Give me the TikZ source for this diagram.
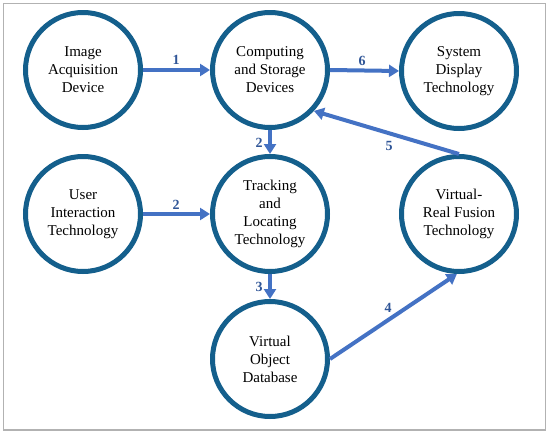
\documentclass[tikz,border=0pt]{standalone}
\usepackage{fontspec}
\setmainfont{Liberation Serif}
\newfontfamily\tnr{Liberation Serif}
\usetikzlibrary{arrows.meta}
\definecolor{ring}{RGB}{20,95,140}
\definecolor{arr}{RGB}{68,114,196}
\definecolor{lab}{RGB}{47,85,151}
\tikzset{
  circ/.style={circle,draw=ring,line width=5pt,minimum size=115pt,inner sep=0pt,align=center,
    font=\tnr\fontsize{15pt}{18pt}\selectfont,fill=white},
  conn/.style={draw=arr,line width=4pt,-{Triangle[length=10pt,width=12pt]}},
  lbl/.style={text=lab,font=\tnr\bfseries\fontsize{14pt}{16pt}\selectfont}
}
\begin{document}
\begin{tikzpicture}[x=1pt,y=-1pt]
\useasboundingbox (0,0) rectangle (550,434);
\draw[draw=black!30,line width=1.2pt] (3.5,3.5) rectangle (545.5,430);
\node[circ] (img) at (83,70) {Image\\Acquisition\\Device};
\node[circ] (comp) at (270,70) {Computing\\and Storage\\Devices};
\node[circ] (sys) at (459,71) {System\\Display\\Technology};
\node[circ] (user) at (83,214) {User\\Interaction\\Technology};
\node[circ] (track) at (270,214) {Tracking\\and\\Locating\\Technology};
\node[circ] (fus) at (459,214) {Virtual-\\Real Fusion\\Technology};
\node[circ] (vod) at (270,359) {Virtual\\Object\\Database};
\begin{scope}[on background layer/.style={}]
\draw[conn] (img.east) -- (comp.west);
\draw[conn] (comp.east) -- (sys.west);
\draw[conn] (comp.south) -- (track.north);
\draw[conn] (user.east) -- (track.west);
\draw[conn] (track.south) -- (vod.north);
\draw[conn] (vod.east) -- (fus.-92);
\draw[conn] (fus.north) -- (comp.-43);
\end{scope}
\node[lbl] (l1) at (176,60) {1};
\node[lbl] (l6) at (362,61) {6};
\node[lbl] (l2a) at (259,143) {2};
\node[lbl] (l2b) at (176,205) {2};
\node[lbl] (l3) at (259,287) {3};
\node[lbl] (l4) at (388,308) {4};
\node[lbl] (l5) at (389,146) {5};
\end{tikzpicture}
\end{document}
